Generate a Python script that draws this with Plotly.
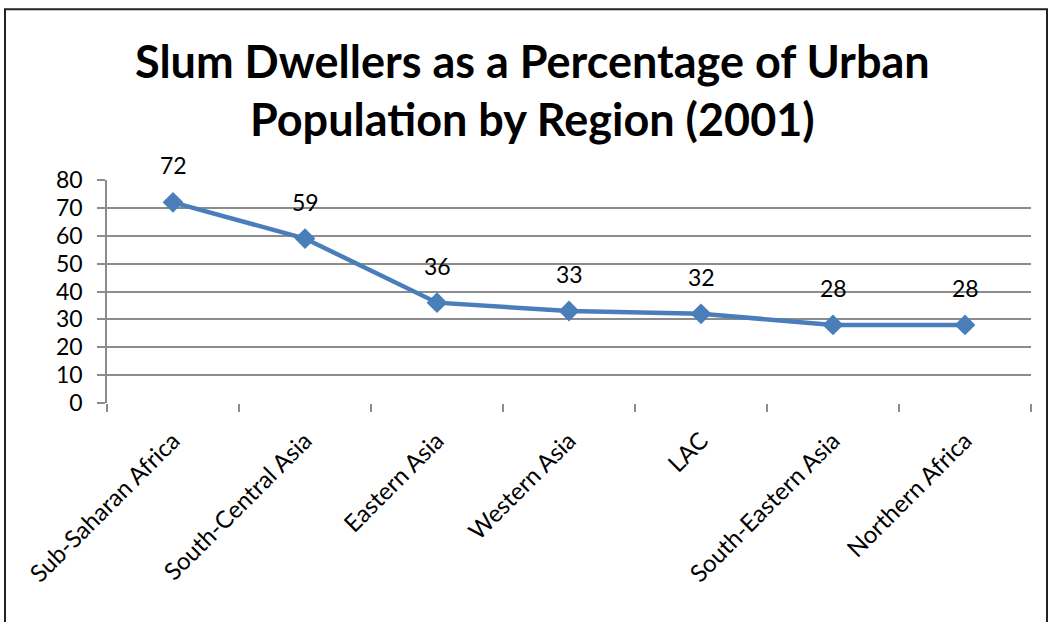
import plotly.graph_objects as go

regions = ["Sub-Saharan Africa", "South-Central Asia", "Eastern Asia", "Western Asia",
           "LAC", "South-Eastern Asia", "Northern Africa"]
values = [72, 59, 36, 33, 32, 28, 28]
title_text = "Slum Dwellers as a Percentage of Urban<br>Population by Region (2001)"

FONT = "Lato, 'Open Sans', sans-serif"
BLUE = "#4a7ebb"
GRID = "#8c8c8c"

fig = go.Figure()
fig.add_trace(go.Scatter(
    x=regions, y=values, mode="lines+markers",
    line=dict(color=BLUE, width=4.5),
    marker=dict(symbol="diamond", size=16, color=BLUE),
    showlegend=False, hoverinfo="x+y"))

for r, v in zip(regions, values):
    fig.add_annotation(x=r, y=v, text=str(v), showarrow=False, yshift=37,
                       font=dict(family=FONT, size=23, color="black"))

L, R, T, B = 107, 1031, 179.5, 403.5
pw, ph = R - L, B - T

fig.add_shape(type="rect", xref="paper", yref="paper",
              x0=(5 - L) / pw, x1=(1047 - L) / pw,
              y0=(B - 640) / ph, y1=(B - 8) / ph,
              line=dict(color="#222222", width=2), fillcolor="rgba(0,0,0,0)", layer="below")

fig.update_layout(
    width=1050, height=622,
    margin=dict(l=L, r=1050 - R, t=T, b=622 - B),
    paper_bgcolor="white", plot_bgcolor="white",
    font=dict(family=FONT, color="black"),
    title=dict(text=title_text, x=0.507, xanchor="center", y=0.875, yanchor="top",
               font=dict(family=FONT, size=45, color="black", weight="bold")),
)
fig.update_xaxes(
    type="category", range=[-0.5, 6.5],
    showline=False, showgrid=False, zeroline=False,
    ticks="outside", tickson="boundaries", ticklen=8, tickwidth=1.5, tickcolor=GRID,
    tickangle=-45, tickfont=dict(family=FONT, size=24, color="black"),
    ticklabelstandoff=18,
)
fig.update_yaxes(
    range=[0, 80], dtick=10, tick0=0,
    showgrid=True, gridcolor=GRID, gridwidth=1.5,
    zeroline=False, showline=True, linecolor=GRID, linewidth=1.5,
    ticks="outside", ticklen=8, tickwidth=1.5, tickcolor=GRID,
    tickfont=dict(family=FONT, size=23, color="black"),
    ticklabelstandoff=10,
)

fig.write_html("out.html")
